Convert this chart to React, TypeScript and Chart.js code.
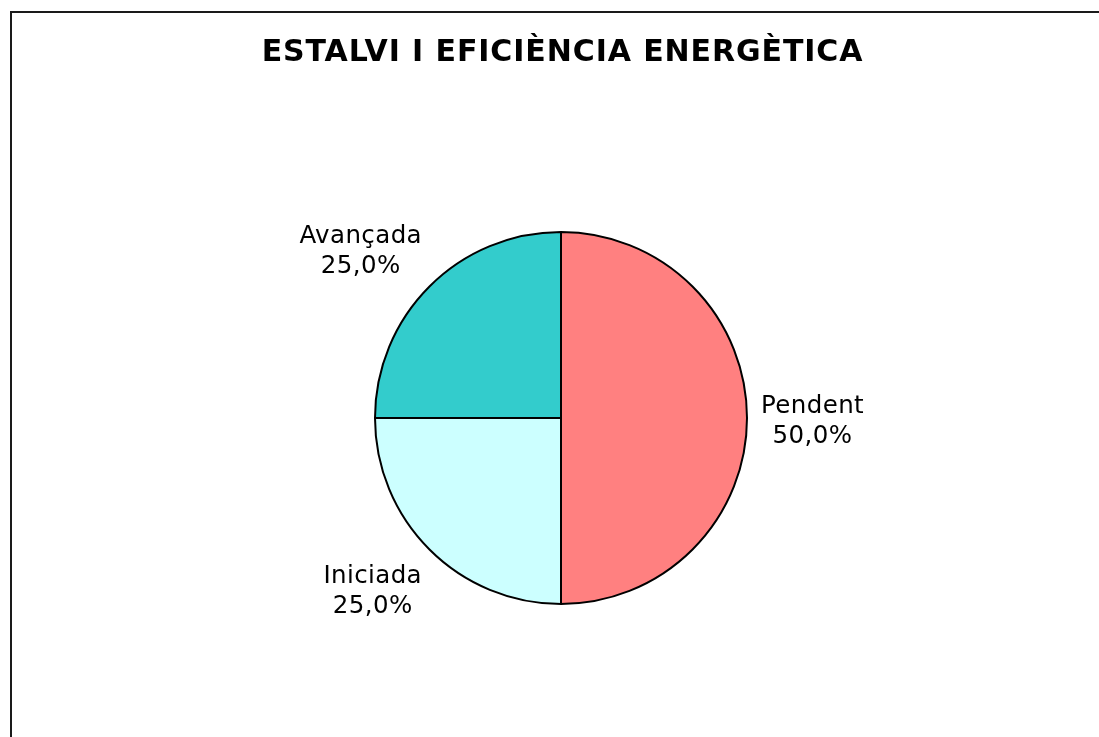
import React, { useEffect, useRef } from "react";
import { Chart, registerables } from "chart.js";

Chart.register(...registerables);

const TITLE = "ESTALVI I EFICIÈNCIA ENERGÈTICA";
const categories = ["Pendent", "Iniciada", "Avançada"];
const values = [50, 25, 25];
const colors = ["#FF8080", "#CCFFFF", "#33CCCC"];

const W = 1099;
const H = 737;

const fmtPct = (v: number, total: number) =>
  (Math.round((v / total) * 1000) / 10).toFixed(1).replace(".", ",") + "%";

const decorPlugin = {
  id: "decor",
  beforeDraw(chart: any) {
    const ctx = chart.ctx;
    ctx.save();
    ctx.fillStyle = "#ffffff";
    ctx.fillRect(0, 0, chart.width, chart.height);
    ctx.strokeStyle = "#1a1a1a";
    ctx.lineWidth = 2;
    ctx.strokeRect(11, 12, chart.width + 40, chart.height + 40);
    ctx.restore();
  },
  afterDraw(chart: any) {
    const ctx = chart.ctx;
    const area = chart.chartArea;
    ctx.save();
    // title
    ctx.fillStyle = "#000000";
    ctx.font = 'bold 30px "DejaVu Sans", Verdana, sans-serif';
    (ctx as any).letterSpacing = "0.9px";
    ctx.textAlign = "center";
    ctx.textBaseline = "middle";
    ctx.fillText(TITLE, (area.left + area.right) / 2 + 1.5, 53);

    // data labels
    const meta = chart.getDatasetMeta(0);
    const data = chart.data.datasets[0].data as number[];
    const total = data.reduce((a: number, b: number) => a + b, 0);
    ctx.font = '24.5px "DejaVu Sans", Verdana, sans-serif';
    (ctx as any).letterSpacing = "0.4px";
    const lineH = 30;
    meta.data.forEach((arc: any, i: number) => {
      const p = arc.getProps(["x", "y", "startAngle", "endAngle", "outerRadius"], true);
      const mid = (p.startAngle + p.endAngle) / 2;
      const c = Math.cos(mid);
      const s = Math.sin(mid);
      const gap = 12;
      const ax = p.x + c * (p.outerRadius + gap);
      const ay = p.y + s * (p.outerRadius + gap);
      const lines = [chart.data.labels[i] as string, fmtPct(data[i], total)];
      const w = Math.max(...lines.map((t) => ctx.measureText(t).width));
      const h = lines.length * lineH;
      let left = ax - w / 2;
      if (c > 0.3) left = ax + 2;
      else if (c < -0.3) left = ax - w + 1;
      let top = ay - h / 2 + 4;
      if (s > 0.3) top = ay + 4;
      else if (s < -0.3) top = ay - h + 4;
      ctx.fillStyle = "#000000";
      ctx.textAlign = "center";
      ctx.textBaseline = "middle";
      lines.forEach((t, k) => {
        ctx.fillText(t, left + w / 2, top + lineH / 2 + k * lineH);
      });
    });
    ctx.restore();
  },
};

export default function App() {
  const ref = useRef<HTMLCanvasElement | null>(null);
  useEffect(() => {
    if (!ref.current) return;
    const chart = new Chart(ref.current, {
      type: "pie",
      data: {
        labels: categories,
        datasets: [
          {
            data: values,
            backgroundColor: colors,
            borderColor: "#000000",
            borderWidth: 2,
            hoverOffset: 0,
            offset: 0,
          },
        ],
      },
      options: {
        responsive: false,
        animation: false,
        events: [],
        radius: 186,
        rotation: 0,
        layout: { padding: { left: 375, right: 352, top: 232, bottom: 133 } },
        plugins: {
          legend: { display: false },
          tooltip: { enabled: false },
          title: { display: false },
        },
      } as any,
      plugins: [decorPlugin],
    });
    return () => chart.destroy();
  }, []);
  return (
    <div style={{ position: "absolute", left: 0, top: 0, width: W, height: H, background: "#fff" }}>
      <canvas ref={ref} width={W} height={H} style={{ display: "block" }} />
    </div>
  );
}
